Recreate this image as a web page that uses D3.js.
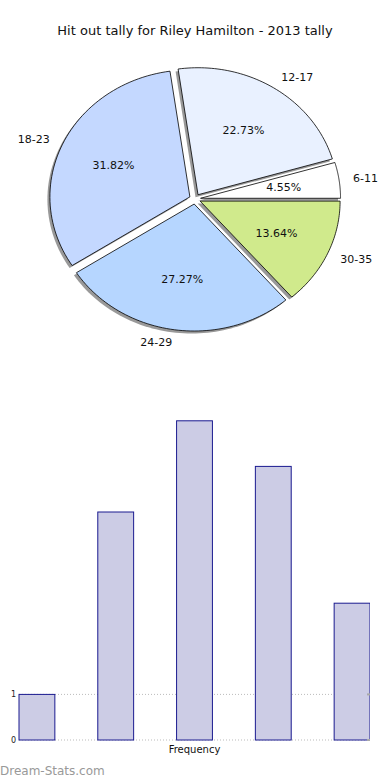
<!DOCTYPE html>
<html>
<head>
<meta charset="utf-8">
<script src="https://cdn.jsdelivr.net/npm/d3@7/dist/d3.min.js"></script>
<style>
  body { margin: 0; background: #fff; }
  svg { display: block; font-family: "DejaVu Sans", sans-serif; }
</style>
</head>
<body>
<svg id="chart" width="390" height="780"></svg>
<script>
// data
const categories = ["6-11", "12-17", "18-23", "24-29", "30-35"];
const tally = [1, 5, 7, 6, 3];
const sliceColors = ["#ffffff", "#e9f1ff", "#c4d8ff", "#b6d6ff", "#d0ea8c"];
const yTicks = [0, 1];

const svg = d3.select("#chart");

svg.append("text")
   .attr("x", 195).attr("y", 35)
   .attr("text-anchor", "middle")
   .style("font-size", "13px")
   .attr("fill", "#111")
   .text("Hit out tally for Riley Hamilton - 2013 tally");

// ---- pie (elliptical, matplotlib style: counter-clockwise from east)
const cx = 195, cy = 199, rx = 140, ry = 127;
const explode = 0.04;
const total = d3.sum(tally);

const pie = d3.pie().sort(null).value(d => d)
  .startAngle(Math.PI / 2).endAngle(Math.PI / 2 - 2 * Math.PI);
const arcs = pie(tally);

// d3 angle a: 0 = north, clockwise. convert to screen point on ellipse
const pt = (a, k) => [Math.sin(a) * rx * k, -Math.cos(a) * ry * k];

const pieG = svg.append("g").attr("transform", `translate(${cx},${cy})`);

function slicePath(d) {
  const a0 = d.startAngle, a1 = d.endAngle;
  const n = 60, pts = [];
  for (let i = 0; i <= n; i++) pts.push(pt(a0 + (a1 - a0) * i / n, 1));
  return "M0,0L" + pts.map(p => p.join(",")).join("L") + "Z";
}
const mid = d => (d.startAngle + d.endAngle) / 2;
const offset = d => pt(mid(d), explode);

// shadows
pieG.selectAll("path.shadow")
    .data(arcs)
    .enter()
    .append("path")
    .attr("class", "shadow")
    .attr("d", slicePath)
    .attr("transform", d => { const o = offset(d); return `translate(${o[0] - 2.5},${o[1] + 2.5})`; })
    .attr("fill", "#808080")
    .attr("opacity", 0.8);

pieG.selectAll("path.slice")
    .data(arcs)
    .enter()
    .append("path")
    .attr("class", "slice")
    .attr("d", slicePath)
    .attr("transform", d => { const o = offset(d); return `translate(${o[0]},${o[1]})`; })
    .attr("fill", (d, i) => sliceColors[i])
    .attr("stroke", "#000")
    .attr("stroke-width", 0.8);

// category labels
pieG.selectAll("text.lab")
    .data(arcs)
    .enter()
    .append("text")
    .attr("class", "lab")
    .attr("x", d => pt(mid(d), 1.1 + explode)[0])
    .attr("y", d => pt(mid(d), 1.1 + explode)[1])
    .attr("dy", "0.35em")
    .attr("text-anchor", d => Math.sin(mid(d)) >= 0 ? "start" : "end")
    .style("font-size", "11px")
    .attr("fill", "#111")
    .text((d, i) => categories[i]);

// percentage labels
pieG.selectAll("text.pct")
    .data(arcs)
    .enter()
    .append("text")
    .attr("class", "pct")
    .attr("x", d => pt(mid(d), 0.6 + explode)[0])
    .attr("y", d => pt(mid(d), 0.6 + explode)[1])
    .attr("dy", "0.35em")
    .attr("text-anchor", "middle")
    .style("font-size", "11px")
    .attr("fill", "#111")
    .text(d => (d.value / total * 100).toFixed(2) + "%");

// ---- bar chart
const plot = { left: 19, right: 370, top: 372, bottom: 740 };

const x = d3.scaleBand()
  .domain(categories)
  .range([plot.left, plot.right])
  .paddingInner(0.545)
  .paddingOuter(0)
  .align(0);

const y = d3.scaleLinear()
  .domain([0, 8])
  .range([plot.bottom, plot.bottom - 8 * 45.6]);

svg.append("defs").append("clipPath").attr("id", "plotClip")
   .append("rect")
   .attr("x", plot.left - 1).attr("y", plot.top)
   .attr("width", plot.right - plot.left + 1).attr("height", plot.bottom - plot.top + 1);

// grid lines
svg.append("g").selectAll("line")
   .data(yTicks)
   .enter()
   .append("line")
   .attr("x1", plot.left).attr("x2", plot.right)
   .attr("y1", d => y(d)).attr("y2", d => y(d))
   .attr("stroke", "#bbb")
   .attr("stroke-width", 1)
   .attr("stroke-dasharray", "1,2");

const barG = svg.append("g").attr("clip-path", "url(#plotClip)");
barG.selectAll("rect")
    .data(tally)
    .enter()
    .append("rect")
    .attr("x", (d, i) => x(categories[i]))
    .attr("y", d => y(d))
    .attr("width", x.bandwidth())
    .attr("height", d => y(0) - y(d))
    .attr("fill", "#ccccE5")
    .attr("stroke", "#1a1a8f")
    .attr("stroke-width", 1);

// y axis labels
const yAxis = d3.axisLeft(y).tickValues(yTicks).tickSize(0).tickPadding(3);
const yAx = svg.append("g").attr("transform", `translate(${plot.left},0)`).call(yAxis);
yAx.select(".domain").remove();
yAx.selectAll("text").style("font-size", "8px").attr("fill", "#222").style("font-family", "DejaVu Sans, sans-serif");

// small ticks on the right edge
svg.append("g").selectAll("line")
   .data(yTicks)
   .enter()
   .append("line")
   .attr("x1", plot.right - 3).attr("x2", plot.right)
   .attr("y1", d => y(d)).attr("y2", d => y(d))
   .attr("stroke", "#aaa")
   .attr("stroke-width", 2);

svg.append("text")
   .attr("x", (plot.left + plot.right) / 2).attr("y", 753)
   .attr("text-anchor", "middle")
   .style("font-size", "10px")
   .attr("fill", "#111")
   .text("Frequency");

svg.append("text")
   .attr("x", 0).attr("y", 775)
   .style("font-size", "12px")
   .attr("fill", "#999")
   .text("Dream-Stats.com");
</script>
</body>
</html>
